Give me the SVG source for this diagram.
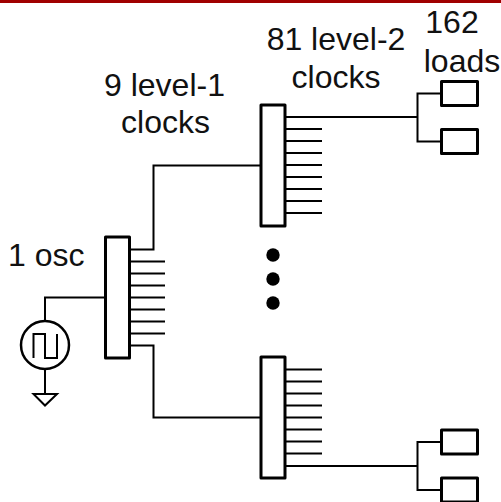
<svg xmlns="http://www.w3.org/2000/svg" width="501" height="502" viewBox="0 0 501 502">
<style>
text{font-family:"Liberation Sans",Arial,sans-serif;font-size:32px;fill:#111}
.m{text-anchor:middle}
.box{fill:#fff;stroke:#000;stroke-width:3;stroke-linejoin:round}
.w{fill:none;stroke:#000;stroke-width:2}
.t{fill:none;stroke:#000;stroke-width:2}
</style>
<rect width="501" height="502" fill="#fff"/>
<rect width="501" height="3" fill="#a00000"/>
<g id="connectors">
<path class="w" d="M105 297.500H45V321M45 369V394M129 249.500H153.500V165.500H261M129 345.500H153.500V417.500H261"/>
<path class="w" d="M129 261.500H165M129 273.500H165M129 285.500H165M129 297.500H165M129 309.500H165M129 321.500H165M129 333.500H165"/>
<path class="w" d="M285 117H417.500M285 129H322M285 141H322M285 153H322M285 165H322M285 177H322M285 189H322M285 201H322M285 213H322"/>
<path class="w" d="M285 369.500H322M285 381.500H322M285 393.500H322M285 405.500H322M285 417.500H322M285 429.500H322M285 441.500H322M285 453.500H322M285 466H417.500"/>
<path class="w" d="M441 93.500H417.500V141.500H441M441 442H417.500V490H441"/>
</g>
<g id="osc">
<circle cx="45" cy="345" r="24" fill="#fff" stroke="#000" stroke-width="2.500"/>
<path class="t" d="M33.500 358V334H45V358H57V334"/>
<path class="t" d="M33.500 394H57L45 405.500Z" fill="#fff"/>
</g>
<g id="level1"><rect class="box" x="105.500" y="237" width="24" height="121"/></g>
<g id="level2-top"><rect class="box" x="261" y="105" width="24" height="121"/></g>
<g id="level2-bottom"><rect class="box" x="261" y="357" width="24" height="121"/></g>
<g id="load-1"><rect class="box" x="441.500" y="81.500" width="36" height="24"/></g>
<g id="load-2"><rect class="box" x="441.500" y="129.500" width="36" height="24"/></g>
<g id="load-3"><rect class="box" x="441.500" y="430" width="36" height="24"/></g>
<g id="load-4"><rect class="box" x="441.500" y="478" width="36" height="24"/></g>
<g id="dots"><circle cx="273" cy="255" r="6.700"/><circle cx="273" cy="279" r="6.700"/><circle cx="273" cy="303" r="6.700"/></g>
<g id="labels">
<text x="8" y="266">1 osc</text>
<text class="m" x="164.500" y="96">9 level-1</text>
<text class="m" x="165.500" y="133">clocks</text>
<text class="m" x="336" y="50">81 level-2</text>
<text class="m" x="336" y="88">clocks</text>
<text class="m" x="452" y="33">162</text>
<text class="m" x="462" y="72">loads</text>
</g>
</svg>
